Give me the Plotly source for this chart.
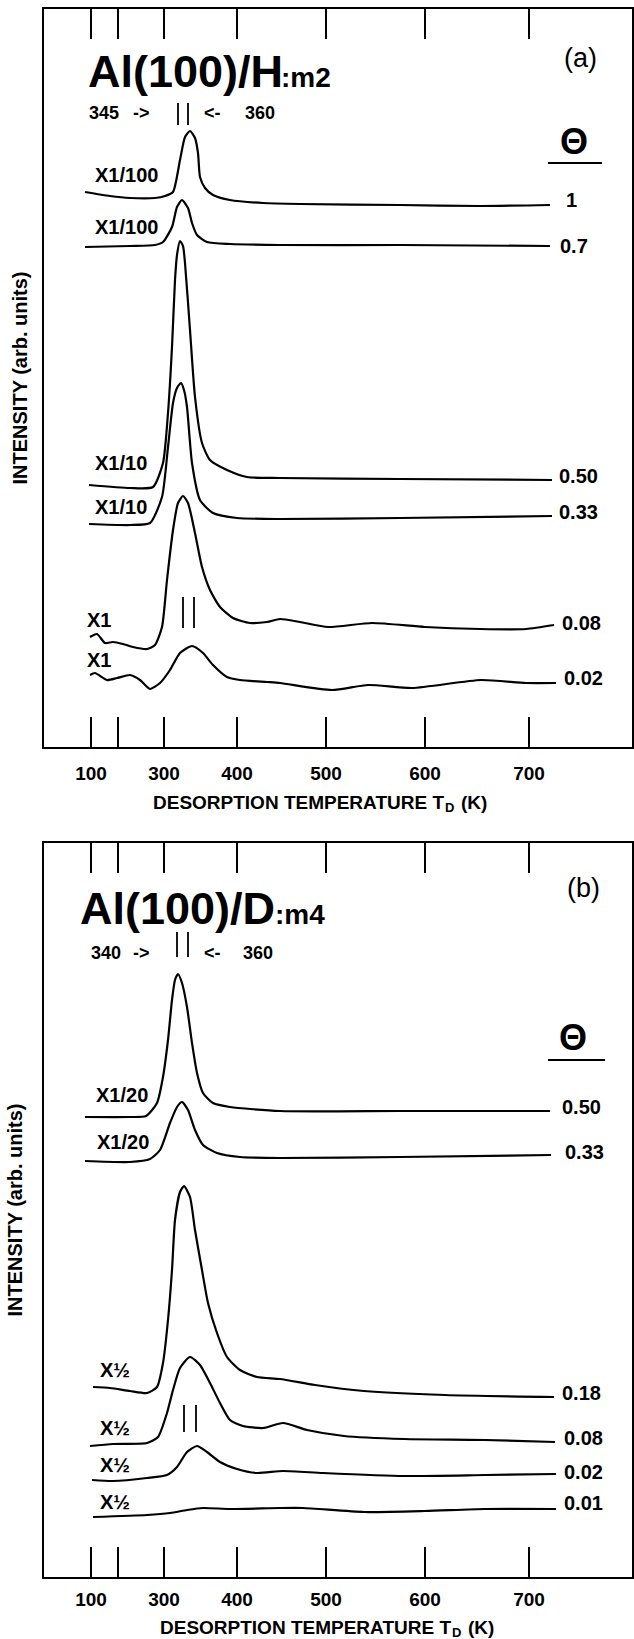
import plotly.graph_objects as go

W, H = 634, 1639
FONT = "Liberation Sans"

# ---- x axis: heating-ramp position (arb.), labelled with temperature (K) ----
tick_t = [0, 73, 146, 235, 334, 438]
tick_lab = ["100", "300", "400", "500", "600", "700"]
minor_tick_t = [27]          # the unlabelled 200 K mark

# ---- panel (a): Al(100)/H, m2 ----
a_1_t = [-6, 19, 39, 64, 74, 82, 89, 94, 99, 104, 107, 109, 114, 122, 139, 172, 209, 309, 389, 459]
a_1_i = [555, 551, 549, 549, 551, 555, 587, 610, 616, 609, 594, 570, 559, 552, 547, 544, 543, 542, 541, 542]

a_07_t = [-6, 39, 64, 72, 81, 86, 91, 97, 101, 106, 116, 139, 189, 309, 459]
a_07_i = [500, 501, 502, 505, 520, 540, 547, 539, 524, 512, 505, 503, 502, 502, 501]

a_050_t = [-2, 39, 62, 72, 77, 81, 84, 86, 89, 92, 94, 99, 104, 111, 119, 136, 156, 189, 309, 461]
a_050_i = [262, 259, 260, 284, 334, 400, 467, 492, 506, 501, 484, 417, 350, 304, 287, 277, 270, 269, 268, 267]

a_033_t = [-2, 39, 59, 71, 77, 82, 86, 90, 93, 96, 101, 109, 122, 146, 189, 309, 461]
a_033_i = [223, 222, 224, 250, 300, 344, 359, 364, 357, 340, 284, 247, 234, 229, 228, 229, 231]

a_008_t = [-1, 6, 14, 22, 32, 42, 56, 64, 71, 76, 82, 87, 92, 97, 104, 111, 119, 129, 142, 159, 176, 189, 209, 237, 281, 334, 389, 435, 463]
a_008_i = [110, 113, 104, 105, 103, 100, 98, 102, 120, 167, 217, 244, 251, 244, 214, 180, 157, 140, 129, 124, 125, 128, 125, 120, 124, 120, 118, 118, 122]

a_002_t = [-1, 4, 16, 26, 39, 49, 59, 69, 79, 89, 101, 112, 122, 136, 149, 176, 189, 241, 277, 321, 390, 435, 465]
a_002_i = [72, 74, 67, 69, 72, 67, 58, 64, 77, 94, 101, 94, 82, 70, 67, 65, 64, 57, 62, 59, 67, 64, 64]

a_mark_top_t = [87, 97]
a_mark_top_i = [622, 644]
a_mark_low_t = [92, 103]
a_mark_low_i = [119, 150]

# ---- panel (b): Al(100)/D, m4 ----
b_050_t = [-6, 39, 55, 66, 72, 77, 81, 84, 87, 91, 96, 101, 106, 112, 122, 139, 189, 309, 459]
b_050_i = [460, 460, 461, 474, 500, 537, 577, 597, 603, 594, 570, 534, 504, 484, 474, 470, 466, 466, 466]

b_033_t = [-6, 39, 59, 69, 79, 86, 91, 97, 104, 112, 126, 149, 189, 309, 460]
b_033_i = [416, 415, 418, 427, 454, 470, 475, 467, 447, 432, 424, 420, 419, 420, 422]

b_018_t = [2, 19, 39, 56, 66, 72, 77, 81, 84, 89, 93, 99, 104, 111, 117, 126, 136, 149, 166, 189, 224, 273, 354, 463]
b_018_i = [190, 189, 186, 184, 190, 214, 257, 307, 357, 385, 391, 380, 347, 307, 274, 244, 220, 207, 200, 198, 192, 186, 182, 180]

b_008_t = [-1, 22, 56, 67, 76, 82, 89, 99, 109, 119, 129, 139, 152, 172, 192, 216, 253, 313, 394, 464]
b_008_i = [131, 133, 134, 140, 164, 187, 209, 220, 212, 194, 174, 157, 151, 149, 154, 147, 141, 138, 137, 135]

b_002_t = [1, 22, 56, 76, 86, 96, 106, 116, 129, 146, 166, 192, 232, 313, 394, 465]
b_002_i = [97, 96, 99, 102, 110, 125, 131, 125, 115, 108, 104, 106, 104, 101, 102, 103]

b_001_t = [2, 56, 79, 96, 112, 139, 189, 212, 273, 334, 394, 465]
b_001_i = [60, 62, 64, 67, 69, 68, 69, 69, 65, 66, 68, 68]

b_mark_top_t = [86, 97]
b_mark_top_i = [620, 645]
b_mark_low_t = [93, 105]
b_mark_low_i = [145, 172]

fig = go.Figure()

def curve(t, i, xa, ya):
    fig.add_trace(go.Scatter(x=t, y=i, mode="lines", xaxis=xa, yaxis=ya,
                             line=dict(color="black", width=2.2, shape="spline", smoothing=0.6),
                             hoverinfo="skip", showlegend=False))

def marks(ts, ii, xa, ya):
    xs, ys = [], []
    for t in ts:
        xs += [t, t, None]
        ys += [ii[0], ii[1], None]
    fig.add_trace(go.Scatter(x=xs, y=ys, mode="lines", xaxis=xa, yaxis=ya,
                             line=dict(color="black", width=1.8),
                             hoverinfo="skip", showlegend=False))

for t, i in [(a_1_t, a_1_i), (a_07_t, a_07_i), (a_050_t, a_050_i),
             (a_033_t, a_033_i), (a_008_t, a_008_i), (a_002_t, a_002_i)]:
    curve(t, i, "x", "y")
marks(a_mark_top_t, a_mark_top_i, "x", "y")
marks(a_mark_low_t, a_mark_low_i, "x", "y")

for t, i in [(b_050_t, b_050_i), (b_033_t, b_033_i), (b_018_t, b_018_i),
             (b_008_t, b_008_i), (b_002_t, b_002_i), (b_001_t, b_001_i)]:
    curve(t, i, "x2", "y2")
marks(b_mark_top_t, b_mark_top_i, "x2", "y2")
marks(b_mark_low_t, b_mark_low_i, "x2", "y2")

x_dom = [44 / W, 632 / W]
ya_dom = [1 - 747 / H, 1 - 9 / H]
yb_dom = [1 - 1577 / H, 1 - 843 / H]

y_title = "<b>INTENSITY (arb. units)</b>"

xcommon = dict(range=[-47, 541], tickvals=tick_t, ticktext=tick_lab, ticks="inside",
               ticklen=30, tickwidth=1.8, tickcolor="black", showline=True,
               linecolor="black", linewidth=2, mirror="ticks", showgrid=False,
               zeroline=False, domain=x_dom, automargin=False,
               minor=dict(tickvals=minor_tick_t, ticks="inside", ticklen=30,
                          tickwidth=1.8, tickcolor="black", showgrid=False),
               tickfont=dict(family=FONT, size=19, color="black", weight="bold"))
ycommon = dict(showline=True, linecolor="black", linewidth=2, mirror=True,
               showgrid=False, zeroline=False, showticklabels=False, ticks="",
               automargin=False)

fig.update_layout(
    width=W, height=H, margin=dict(l=0, r=0, t=0, b=0),
    paper_bgcolor="white", plot_bgcolor="white",
    xaxis=dict(xcommon, anchor="y", ticklabelstandoff=8),
    yaxis=dict(ycommon, domain=ya_dom, range=[0, 738], anchor="x",
               title=dict(text=y_title, standoff=9,
                          font=dict(family=FONT, size=20, color="black"))),
    xaxis2=dict(xcommon, anchor="y2", ticklabelstandoff=4),
    yaxis2=dict(ycommon, domain=yb_dom, range=[0, 734], anchor="x2",
                title=dict(text=y_title, standoff=14,
                           font=dict(family=FONT, size=20, color="black"))),
)

ann = []
def txt(text, x, y, xr, yr, size=20, xanchor="left", bold=True, **kw):
    ann.append(dict(text=("<b>%s</b>" % text) if bold else text, x=x, y=y, xref=xr, yref=yr,
                    showarrow=False, xanchor=xanchor, yanchor="middle",
                    font=dict(family=FONT, size=size, color="black"), **kw))

# panel (a) texts
txt("Al(100)/H", -5, 676, "x", "y", size=45)
txt(":m2", 188, 670, "x", "y", size=28)
txt("(a)", 489, 689, "x", "y", size=27, xanchor="center", bold=False)
txt("345", -4, 634, "x", "y", size=18)
txt("-&gt;", 40, 634, "x", "y", size=18)
txt("&lt;-", 111, 634, "x", "y", size=18)
txt("360", 152, 634, "x", "y", size=18)
txt("Θ", 483, 606, "x", "y", size=36, xanchor="center")
txt("X1/100", 35, 572, "x", "y", xanchor="center")
txt("X1/100", 35, 520, "x", "y", xanchor="center")
txt("1", 473, 547, "x", "y")
txt("0.7", 467, 501, "x", "y")
txt("X1/10", 30, 284, "x", "y", xanchor="center")
txt("X1/10", 30, 240, "x", "y", xanchor="center")
txt("0.50", 466, 271, "x", "y")
txt("0.33", 466, 235, "x", "y")
txt("X1", 8, 127, "x", "y", xanchor="center")
txt("X1", 8, 87, "x", "y", xanchor="center")
txt("0.08", 469, 124, "x", "y")
txt("0.02", 471, 69, "x", "y")

# panel (b) texts
txt("Al(100)/D", -13, 668, "x2", "y2", size=45)
txt(":m4", 182, 662, "x2", "y2", size=28)
txt("(b)", 492, 689, "x2", "y2", size=27, xanchor="center", bold=False)
txt("340", -2, 624, "x2", "y2", size=18)
txt("-&gt;", 40, 624, "x2", "y2", size=18)
txt("&lt;-", 111, 624, "x2", "y2", size=18)
txt("360", 150, 624, "x2", "y2", size=18)
txt("Θ", 482, 540, "x2", "y2", size=36, xanchor="center")
txt("X1/20", 31, 482, "x2", "y2", xanchor="center")
txt("X1/20", 32, 435, "x2", "y2", xanchor="center")
txt("0.50", 469, 470, "x2", "y2")
txt("0.33", 472, 425, "x2", "y2")
txt("0.18", 469, 184, "x2", "y2")
txt("0.08", 471, 139, "x2", "y2")
txt("0.02", 471, 105, "x2", "y2")
txt("0.01", 471, 74, "x2", "y2")
for yy in [207, 149, 112, 75]:
    txt("X½", 24, yy, "x2", "y2", xanchor="center")

# x-axis titles: main text, subscript D, and unit, placed in paper coordinates
for xl, yc in [(151, 802), (158, 1627)]:
    txt("DESORPTION TEMPERATURE T", xl / W, 1 - yc / H, "paper", "paper", size=19)
    txt("D", (xl + 292) / W, 1 - (yc + 5) / H, "paper", "paper", size=13)
    txt("(K)", (xl + 308) / W, 1 - yc / H, "paper", "paper", size=19)

fig.update_layout(annotations=ann)

# theta underlines
fig.add_shape(type="line", x0=457, x1=511, y0=584, y1=584, xref="x", yref="y",
              line=dict(color="black", width=2))
fig.add_shape(type="line", x0=457, x1=514, y0=517, y1=517, xref="x2", yref="y2",
              line=dict(color="black", width=2))

fig.write_html("out.html")
